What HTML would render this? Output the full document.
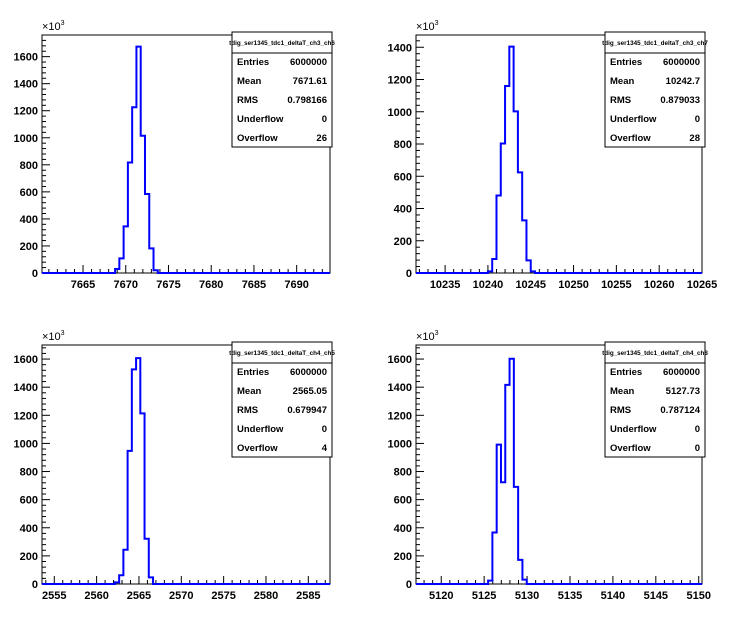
<!DOCTYPE html>
<html><head><meta charset="utf-8">
<style>
html,body{margin:0;padding:0;background:#fff;}
svg{display:block;font-family:"Liberation Sans",Arial,sans-serif;}
</style></head>
<body>
<svg id="c" width="746" height="622" viewBox="0 0 746 622" xmlns="http://www.w3.org/2000/svg"></svg>
<script>
// Panel 1: tdig_ser1345_tdc1_deltaT_ch3_ch6
const p1Bins = [30,108,345,817,1226,1674,1015,584,182,20];
const p1Stats = ["6000000","7671.61","0.798166","0","26"];
const p1XTicks = [7665,7670,7675,7680,7685,7690];
const p1YTicks = [0,200,400,600,800,1000,1200,1400,1600];
// Panel 2: tdig_ser1345_tdc1_deltaT_ch3_ch7
const p2Bins = [10,87,481,803,1160,1404,1002,624,326,78,10];
const p2Stats = ["6000000","10242.7","0.879033","0","28"];
const p2XTicks = [10235,10240,10245,10250,10255,10260,10265];
const p2YTicks = [0,200,400,600,800,1000,1200,1400];
// Panel 3: tdig_ser1345_tdc1_deltaT_ch4_ch5
const p3Bins = [12,62,244,947,1527,1607,1214,322,47];
const p3Stats = ["6000000","2565.05","0.679947","0","4"];
const p3XTicks = [2555,2560,2565,2570,2575,2580,2585];
const p3YTicks = [0,200,400,600,800,1000,1200,1400,1600];
// Panel 4: tdig_ser1345_tdc1_deltaT_ch4_ch8
const p4Bins = [24,366,991,724,1416,1602,691,172,31];
const p4Stats = ["6000000","5127.73","0.787124","0","0"];
const p4XTicks = [5120,5125,5130,5135,5140,5145,5150];
const p4YTicks = [0,200,400,600,800,1000,1200,1400,1600];

const statLabels = ["Entries","Mean","RMS","Underflow","Overflow"];
const NS = "http://www.w3.org/2000/svg";
const svg = document.getElementById('c');
function mk(tag, attrs, parent){
  const e = document.createElementNS(NS, tag);
  for (const k in attrs) e.setAttribute(k, attrs[k]);
  (parent||svg).appendChild(e);
  return e;
}
function panel(cfg){
  const g = mk('g', {});
  
  
  const {L,R,T,B,xmin,xmax,ymax} = cfg;
  const xs = v => L + (v - xmin) / (xmax - xmin) * (R - L);
  const ys = v => B - v / ymax * (B - T);
  // frame
  const fr = mk('rect', {x:L, y:T, width:R-L, height:B-T, fill:'none', stroke:'#000', 'stroke-width':1}, g);
  
  
  // y ticks
  const ystep = cfg.yTicks[1] - cfg.yTicks[0];
  for (let v = 0; v <= ymax; v += ystep/5){
    const major = Math.abs(v/ystep - Math.round(v/ystep)) < 1e-6;
    const y = ys(v);
    mk('line', {x1:L, x2:L + (major?8:4), y1:y, y2:y, stroke:'#000', 'stroke-width':1}, g);
  }
  cfg.yTicks.forEach(v => {
    const t = mk('text', {x:L-4, y:ys(v)+4, 'text-anchor':'end', 'font-size':11, 'font-weight':'bold'}, g);
    t.textContent = v;
    
    
  });
  const ex = mk('text', {x:L, y:T-5, 'font-size':11}, g);
  ex.innerHTML = '×10<tspan dy="-5" font-size="7">3</tspan>';
  
  
  // x ticks
  for (let v = Math.ceil(xmin); v <= xmax; v += 1){
    const major = v % 5 === 0;
    const x = xs(v);
    mk('line', {x1:x, x2:x, y1:B, y2:B - (major?8:4), stroke:'#000', 'stroke-width':1}, g);
  }
  cfg.xTicks.forEach(v => {
    const t = mk('text', {x:xs(v), y:B+15, 'text-anchor':'middle', 'font-size':11, 'font-weight':'bold'}, g);
    t.textContent = v;
    
    
  });
  // histogram
  let d = 'M' + L + ' ' + ys(0);
  let x0 = cfg.binStart;
  d += ' L' + xs(x0) + ' ' + ys(0);
  cfg.bins.forEach((v,i) => {
    const a = cfg.binStart + i*cfg.binW, b = a + cfg.binW;
    d += ' L' + xs(a) + ' ' + ys(v) + ' L' + xs(b) + ' ' + ys(v);
  });
  d += ' L' + xs(cfg.binStart + cfg.bins.length*cfg.binW) + ' ' + ys(0) + ' L' + R + ' ' + ys(0);
  const p = mk('path', {d:d, fill:'none', stroke:'#0000ff', 'stroke-width':2}, g);
  
  
  // stats box
  const sx = cfg.sx, sy = T - 3, sw = 100, sh = 115;
  const sb = mk('g', {}, g);
  
  
  mk('rect', {x:sx, y:sy, width:sw, height:sh, fill:'#fff', stroke:'#000', 'stroke-width':1}, sb);
  mk('line', {x1:sx, x2:sx+sw, y1:sy+21, y2:sy+21, stroke:'#000', 'stroke-width':1}, sb);
  const tt = mk('text', {x:sx+sw/2, y:sy+13, 'text-anchor':'middle', 'font-size':6.3, 'font-weight':'bold'}, sb);
  tt.textContent = cfg.title;
  
  
  statLabels.forEach((lab,i) => {
    const y = sy + 33 + i*19;
    const a = mk('text', {x:sx+5, y:y, 'font-size':9.5, 'font-weight':'bold'}, sb);
    a.textContent = lab;
    
    
    const b = mk('text', {x:sx+sw-5, y:y, 'font-size':9.5, 'font-weight':'bold', 'text-anchor':'end'}, sb);
    b.textContent = cfg.stats[i];
    
    
  });
}
panel({name:'panel-ch3-ch6', L:42, R:330, T:35, B:273, xmin:7660.2, xmax:7693.9, ymax:1760,
  bins:p1Bins, binStart:7668.75, binW:0.5, xTicks:p1XTicks, yTicks:p1YTicks, stats:p1Stats,
  sx:232, title:'tdig_ser1345_tdc1_deltaT_ch3_ch6'});
panel({name:'panel-ch3-ch7', L:416, R:702, T:35, B:273, xmin:10231.6, xmax:10265, ymax:1476,
  bins:p2Bins, binStart:10240, binW:0.5, xTicks:p2XTicks, yTicks:p2YTicks, stats:p2Stats,
  sx:605, title:'tdig_ser1345_tdc1_deltaT_ch3_ch7'});
panel({name:'panel-ch4-ch5', L:42, R:330, T:345, B:584, xmin:2553.55, xmax:2587.56, ymax:1700,
  bins:p3Bins, binStart:2562.16, binW:0.5, xTicks:p3XTicks, yTicks:p3YTicks, stats:p3Stats,
  sx:232, title:'tdig_ser1345_tdc1_deltaT_ch4_ch5'});
panel({name:'panel-ch4-ch8', L:416, R:702, T:345, B:584, xmin:5117.06, xmax:5150.38, ymax:1700,
  bins:p4Bins, binStart:5125.46, binW:0.5, xTicks:p4XTicks, yTicks:p4YTicks, stats:p4Stats,
  sx:605, title:'tdig_ser1345_tdc1_deltaT_ch4_ch8'});
</script>
</body></html>
